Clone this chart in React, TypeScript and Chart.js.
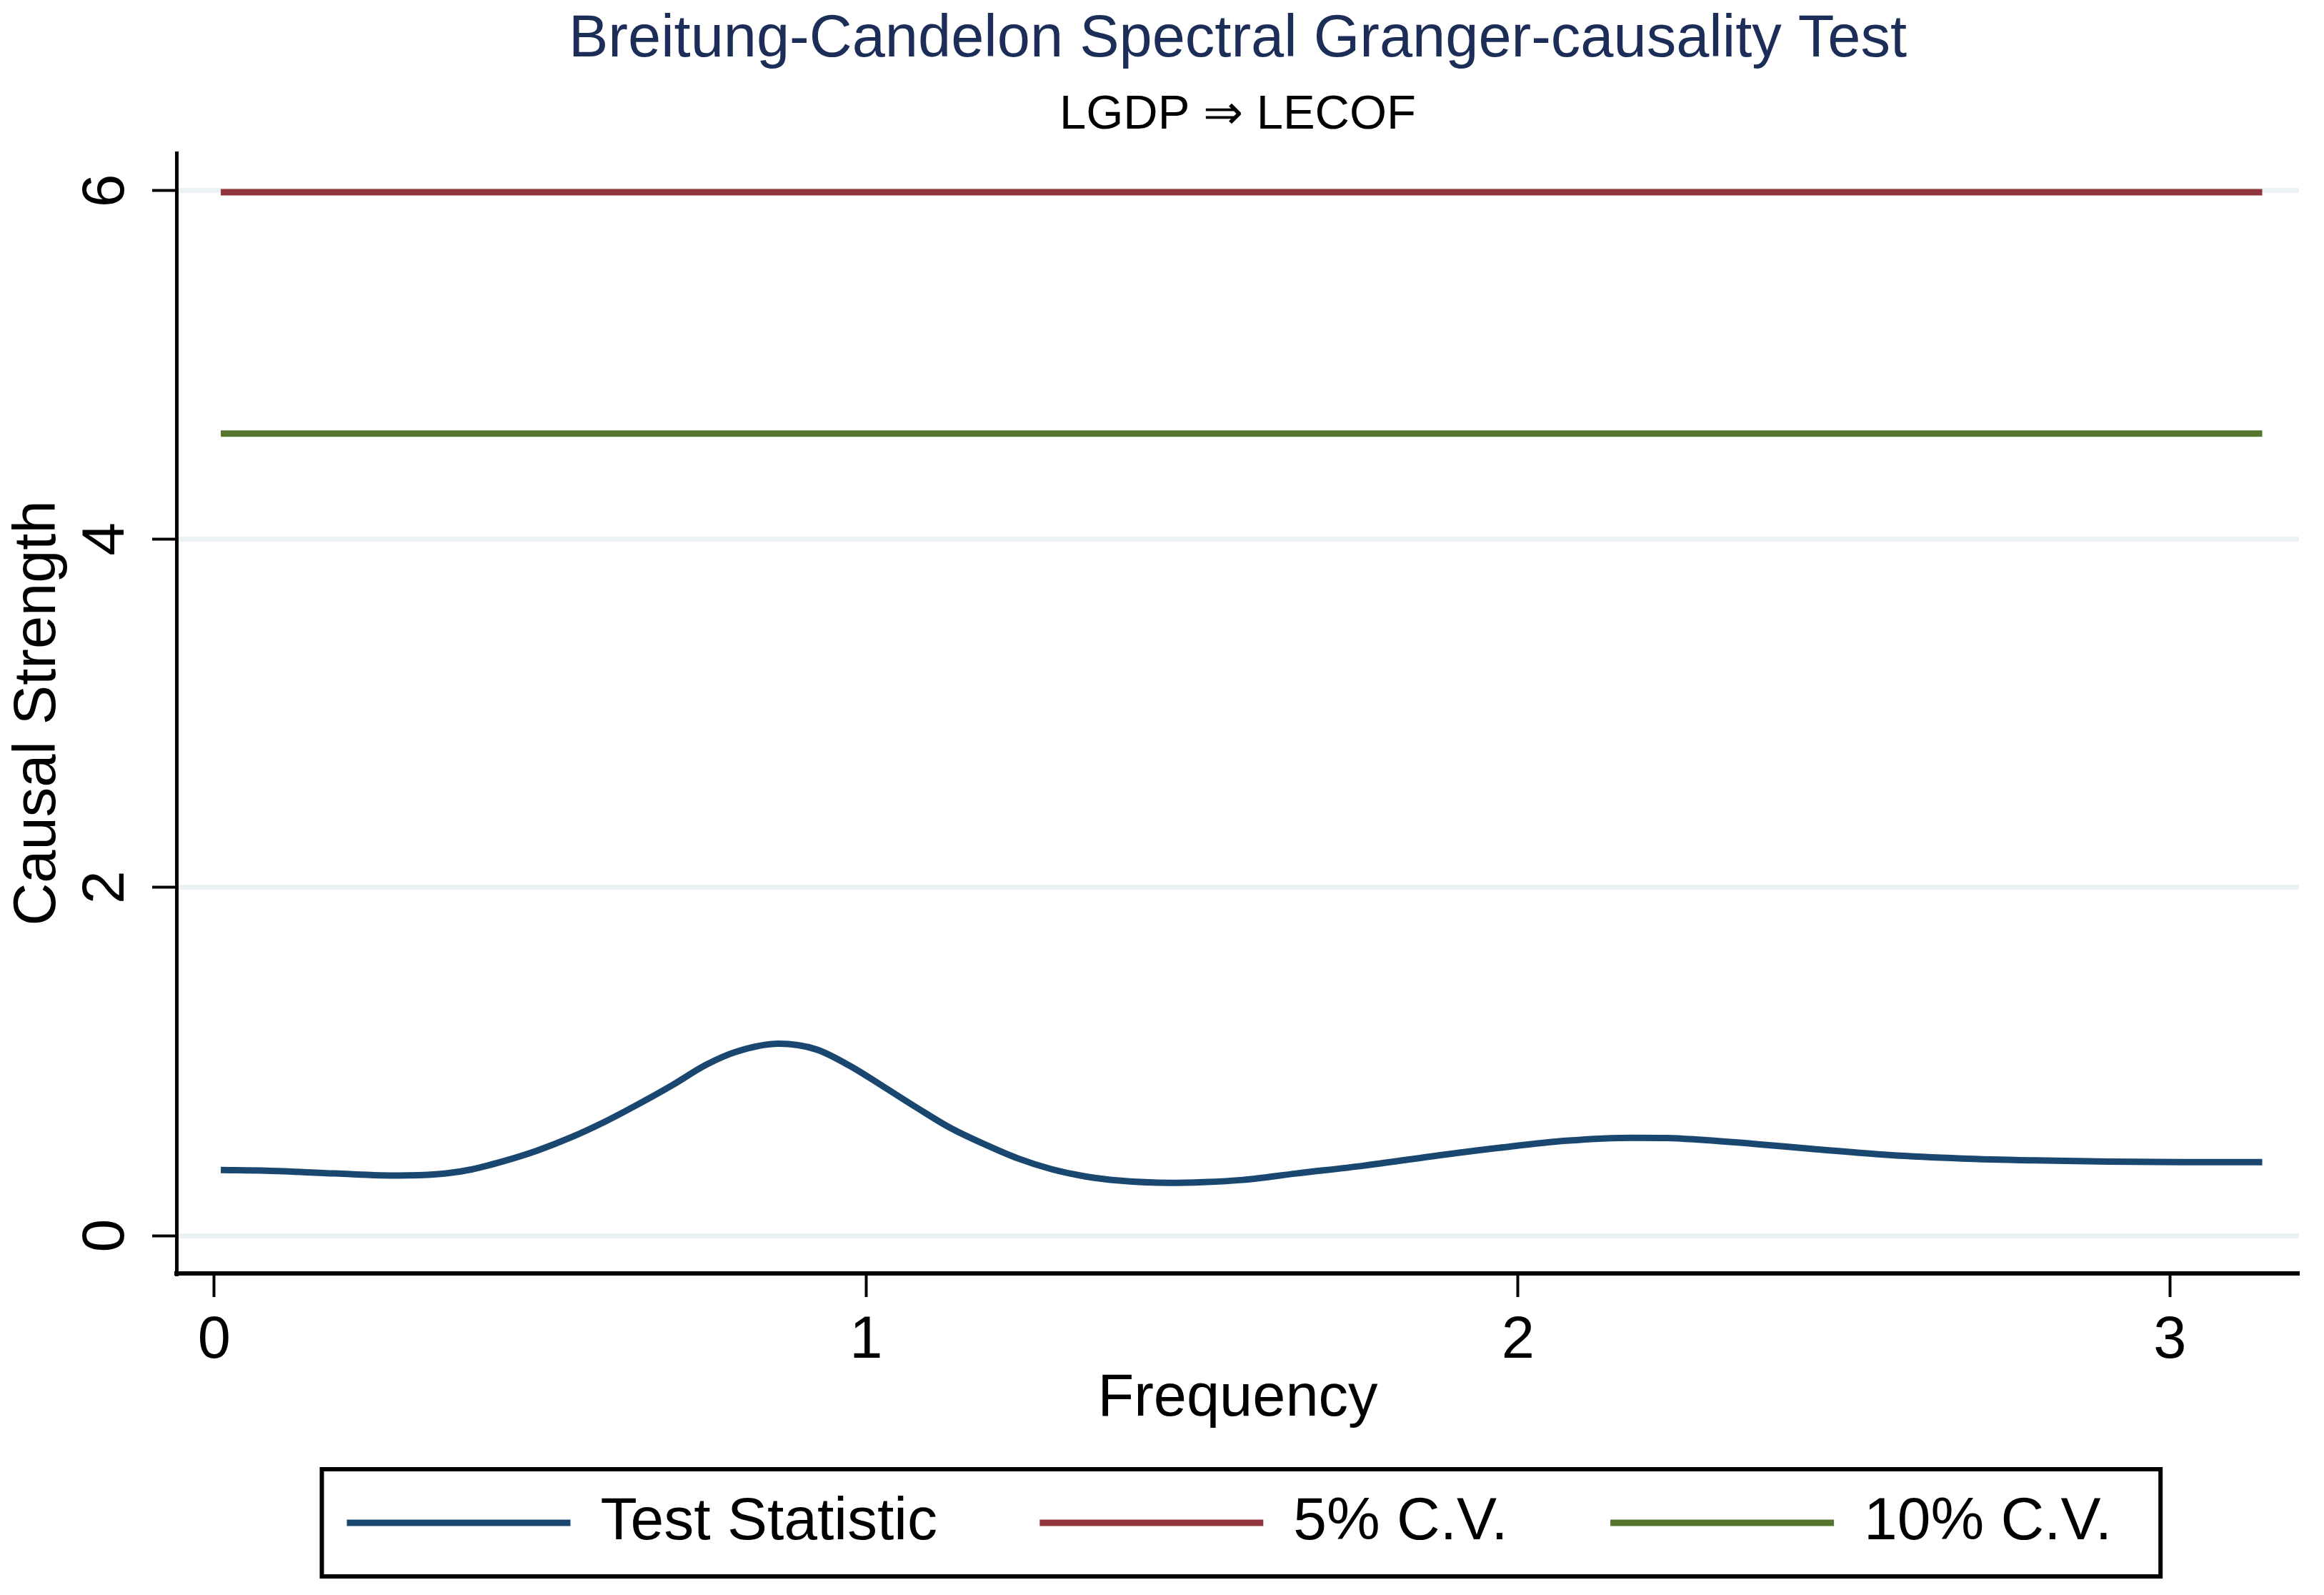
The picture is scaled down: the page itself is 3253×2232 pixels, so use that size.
import React, { useEffect, useRef } from 'react';
import { Chart, registerables } from 'chart.js';

Chart.register(...registerables);

const TITLE = 'Breitung-Candelon Spectral Granger-causality Test';
const SUBTITLE = 'LGDP ⇒ LECOF';
const X_TITLE = 'Frequency';
const Y_TITLE = 'Causal Strength';
const SERIES_LABELS = ['Test Statistic', '5% C.V.', '10% C.V.'];

const frequencies = [
  0.01, 0.08, 0.185, 0.283, 0.34, 0.39, 0.443, 0.495, 0.547, 0.598, 0.65, 0.703, 0.754, 0.8,
  0.866, 0.923, 0.975, 1.026, 1.078, 1.129, 1.182, 1.233, 1.285, 1.336, 1.388, 1.466, 1.517,
  1.578, 1.66, 1.764, 1.867, 1.971, 2.074, 2.177, 2.229, 2.281, 2.368, 2.457, 2.569, 2.681,
  2.793, 2.905, 3.017, 3.1416,
];
const testStatistic = [
  0.377, 0.373, 0.357, 0.345, 0.352, 0.377, 0.427, 0.488, 0.564, 0.652, 0.754, 0.865, 0.98, 1.055,
  1.102, 1.07, 0.975, 0.857, 0.734, 0.619, 0.524, 0.443, 0.381, 0.34, 0.316, 0.303, 0.307,
  0.32, 0.357, 0.402, 0.455, 0.504, 0.545, 0.562, 0.561, 0.55, 0.525, 0.496, 0.463, 0.443,
  0.432, 0.425, 0.422, 0.422,
];
const cvFrequencies = [0.01, 3.1416];
const cv5 = [5.991, 5.991];
const cv10 = [4.605, 4.605];
const xTicks = [0, 1, 2, 3];
const yTicks = [0, 2, 4, 6];

const FONT = "'Liberation Sans', Arial, Helvetica, sans-serif";
const LEGEND_FONT_SIZE = 84;

const legendBorder = {
  id: 'legendBorder',
  afterDraw(chart: any) {
    const hb = chart.legend && chart.legend.legendHitBoxes;
    if (!hb || !hb.length) return;
    const first = hb[0];
    const last = hb[hb.length - 1];
    const cy = first.top + first.height / 2;
    const ctx = chart.ctx;
    ctx.save();
    ctx.font = `${LEGEND_FONT_SIZE}px ${FONT}`;
    const spaceW = ctx.measureText(' ').width;
    const left = first.left - 35;
    const right = last.left + last.width - spaceW + 68;
    ctx.lineWidth = 6;
    ctx.strokeStyle = '#000';
    ctx.strokeRect(left, cy - 75, right - left, 150);
    ctx.restore();
  },
};

export default function App() {
  const canvasRef = useRef<HTMLCanvasElement | null>(null);

  useEffect(() => {
    if (!canvasRef.current) return;
    const toXY = (xs: number[], ys: number[]) => xs.map((x, i) => ({ x, y: ys[i] }));
    const chart = new Chart(canvasRef.current, {
      type: 'line',
      data: {
        datasets: [
          {
            label: SERIES_LABELS[0],
            data: toXY(frequencies, testStatistic),
            borderColor: '#1a476f',
            backgroundColor: '#1a476f',
            borderWidth: 9,
            pointRadius: 0,
            cubicInterpolationMode: 'monotone',
          },
          {
            label: SERIES_LABELS[1],
            data: toXY(cvFrequencies, cv5),
            borderColor: '#90353b',
            backgroundColor: '#90353b',
            borderWidth: 9,
            pointRadius: 0,
          },
          {
            label: SERIES_LABELS[2],
            data: toXY(cvFrequencies, cv10),
            borderColor: '#55752f',
            backgroundColor: '#55752f',
            borderWidth: 9,
            pointRadius: 0,
          },
        ],
      },
      options: {
        animation: false,
        responsive: true,
        maintainAspectRatio: false,
        layout: { padding: { top: 0, right: 35, bottom: 49, left: 0 } },
        font: { family: FONT },
        scales: {
          x: {
            type: 'linear',
            min: -0.058,
            max: 3.198,
            afterBuildTicks: (scale: any) => {
              scale.ticks = xTicks.map((v) => ({ value: v }));
            },
            afterFit: (scale: any) => {
              scale.height = 257;
            },
            grid: {
              drawOnChartArea: false,
              drawTicks: true,
              tickLength: 33,
              tickWidth: 4,
              tickColor: '#000',
              color: '#000',
            },
            border: { display: true, color: '#000', width: 6 },
            ticks: {
              color: '#000',
              padding: 21,
              font: { family: FONT, size: 83, lineHeight: 1 },
              maxRotation: 0,
              minRotation: 0,
            },
            title: {
              display: true,
              text: X_TITLE,
              color: '#000',
              font: { family: FONT, size: 83, lineHeight: 1 },
              padding: { top: 0, bottom: 39 },
            },
          },
          y: {
            type: 'linear',
            min: -0.217,
            max: 6.217,
            afterBuildTicks: (scale: any) => {
              scale.ticks = yTicks.map((v) => ({ value: v }));
            },
            afterFit: (scale: any) => {
              scale.width = 247;
            },
            grid: {
              drawOnChartArea: true,
              color: '#eaf2f3',
              lineWidth: 7,
              drawTicks: true,
              tickLength: 34,
              tickWidth: 4,
              tickColor: '#000',
            },
            border: { display: true, color: '#000', width: 5 },
            ticks: {
              color: '#000',
              padding: 40,
              minRotation: 90,
              maxRotation: 90,
              crossAlign: 'center',
              font: { family: FONT, size: 84, lineHeight: 1 },
            },
            title: {
              display: true,
              text: Y_TITLE,
              color: '#000',
              font: { family: FONT, size: 83, lineHeight: 1 },
              padding: { top: 13, bottom: 0 },
            },
          },
        },
        plugins: {
          title: {
            display: true,
            text: TITLE,
            color: '#1c2d58',
            fullSize: false,
            font: { family: FONT, size: 83, lineHeight: 1, weight: 'normal' },
            padding: { top: 15, bottom: 0 },
          },
          subtitle: {
            display: true,
            text: SUBTITLE,
            color: '#000',
            fullSize: false,
            font: { family: FONT, size: 67, lineHeight: 1 },
            padding: { top: 30, bottom: 19 },
          },
          legend: {
            display: true,
            position: 'bottom',
            fullSize: false,
            align: 'center',
            labels: {
              usePointStyle: true,
              pointStyle: 'line',
              pointStyleWidth: 313,
              padding: 50,
              color: '#000',
              font: { family: FONT, size: LEGEND_FONT_SIZE, lineHeight: 1 },
              generateLabels: (c: any) =>
                (Chart.defaults.plugins.legend.labels.generateLabels as any)(c).map((item: any, i: number) => ({
                  ...item,
                  text: i < 2 ? item.text + '    ' : item.text + ' ',
                  lineWidth: 9,
                })),
            },
          },
          tooltip: { enabled: false },
        },
      } as any,
      plugins: [legendBorder],
    });
    return () => chart.destroy();
  }, []);

  return (
    <div style={{ position: 'fixed', left: 0, top: 0, width: '3253px', height: '2232px', background: '#fff' }}>
      <canvas ref={canvasRef} />
    </div>
  );
}
